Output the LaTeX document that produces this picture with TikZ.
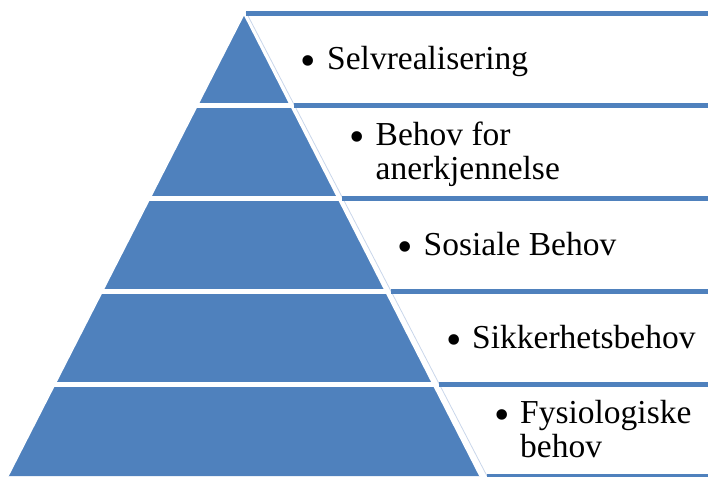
\documentclass[tikz,border=0pt]{standalone}
\usepackage{fontspec}
\setmainfont{Liberation Serif}
\definecolor{pyrblue}{HTML}{4F81BD}
\definecolor{edgeblue}{HTML}{C9D6EA}
\begin{document}
\begin{tikzpicture}[x=1pt,y=-1pt,
  itemtext/.style={anchor=base west, inner sep=0pt, text=black,
    font=\fontsize{33.5}{34}\selectfont},
  bulletmark/.style={anchor=base, inner sep=0pt, text=black,
    font=\fontsize{44}{44}\selectfont},
  band/.style={fill=pyrblue},
  levelsep/.style={draw=white, line width=5pt}]
\useasboundingbox (0,0) rectangle (708,476);
% pyramid
\coordinate (apex) at (244,14);
\coordinate (bl) at (8,476);
\coordinate (br) at (480,476);
\fill[pyrblue] (apex) -- (br) -- (bl) -- cycle;
\draw[white, line width=1.5pt] (bl) -- (apex) -- (br);
% level separators
\draw[levelsep] (0,105.5) -- (292,105.5);
\draw[levelsep] (0,198) -- (340,198);
\draw[levelsep] (0,291.5) -- (388,291.5);
\draw[levelsep] (0,384.5) -- (436,384.5);
% light edge of the text panels
\coordinate (e1) at (246,12);
\coordinate (e2) at (487,476);
\draw[edgeblue, line width=0.8pt] (e1) -- (e2);
% blue bands of the text panels
\fill[band] (246.3,11) rectangle (708,16);
\fill[band] (294.2,103) rectangle (708,108);
\fill[band] (342.3,195.5) rectangle (708,200.5);
\fill[band] (390.5,289) rectangle (708,294);
\fill[band] (438.5,382) rectangle (708,387);
\fill[band] (486.5,474) rectangle (708,479);
% texts
\node[bulletmark] (b1) at (308,76) {•};
\node[itemtext] (t1) at (327,70) {Selvrealisering};
\node[bulletmark] (b2) at (357,151) {•};
\node[itemtext] (t2) at (375.5,145) {\parbox[t]{320pt}{Behov for\\anerkjennelse}};
\node[bulletmark] (b3) at (405,261) {•};
\node[itemtext] (t3) at (423.5,255) {Sosiale Behov};
\node[bulletmark] (b4) at (454,354) {•};
\node[itemtext] (t4) at (472,348) {Sikkerhetsbehov};
\node[bulletmark] (b5) at (502,429) {•};
\node[itemtext] (t5) at (520,423) {\parbox[t]{200pt}{Fysiologiske\\behov}};
\end{tikzpicture}
\end{document}
